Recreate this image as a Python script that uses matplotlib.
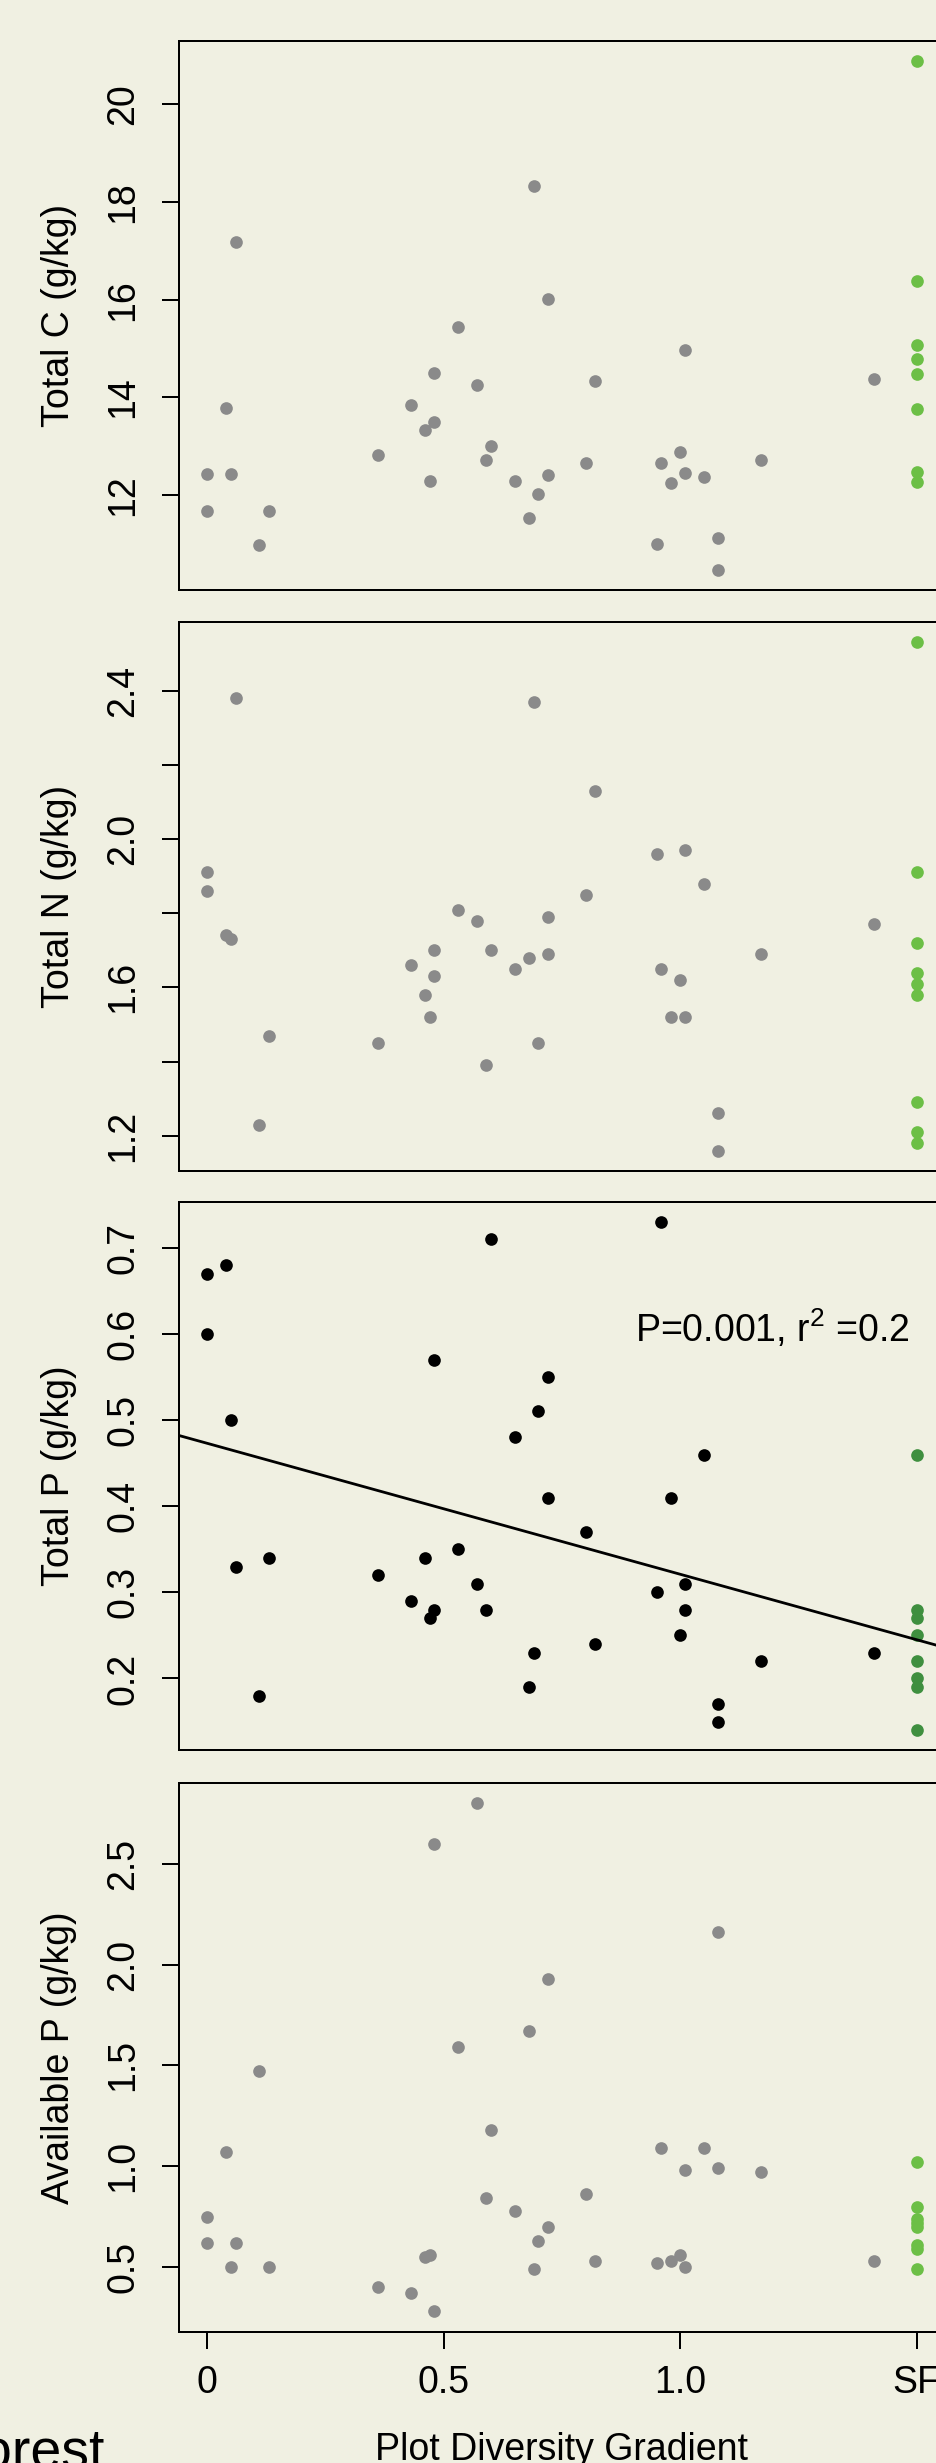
import numpy as np
import matplotlib as mpl
mpl.use('agg')
import matplotlib.pyplot as plt

plt.rcParams['font.family'] = ['Liberation Sans', 'DejaVu Sans']
plt.rcParams['mathtext.default'] = 'regular'

## plot diversity of each sampled plot (same order in every panel)
diversity = [0.00, 0.00, 0.04, 0.05, 0.06, 0.11, 0.13, 0.36, 0.43, 0.46, 0.47, 0.48,
             0.48, 0.53, 0.57, 0.59, 0.60, 0.65, 0.68, 0.69, 0.70, 0.72, 0.72, 0.80,
             0.82, 0.95, 0.96, 0.98, 1.00, 1.01, 1.01, 1.05, 1.08, 1.08, 1.17, 1.41]
sf_x = 1.5

total_c = [12.43, 11.68, 13.78, 12.43, 17.18, 10.98, 11.67, 12.82, 13.85, 13.32, 12.29, 14.50,
           13.49, 15.44, 14.25, 12.71, 13.01, 12.28, 11.52, 18.33, 12.01, 16.01, 12.40, 12.66,
           14.34, 10.99, 12.66, 12.25, 12.88, 14.96, 12.44, 12.36, 11.11, 10.47, 12.71, 14.37]
total_n = [1.91, 1.86, 1.74, 1.73, 2.38, 1.23, 1.47, 1.45, 1.66, 1.58, 1.52, 1.70,
           1.63, 1.81, 1.78, 1.39, 1.70, 1.65, 1.68, 2.37, 1.45, 1.79, 1.69, 1.85,
           2.13, 1.96, 1.65, 1.52, 1.62, 1.97, 1.52, 1.88, 1.26, 1.16, 1.69, 1.77]
total_p = [0.67, 0.60, 0.68, 0.50, 0.33, 0.18, 0.34, 0.32, 0.29, 0.34, 0.27, 0.57,
           0.28, 0.35, 0.31, 0.28, 0.71, 0.48, 0.19, 0.23, 0.51, 0.55, 0.41, 0.37,
           0.24, 0.30, 0.73, 0.41, 0.25, 0.31, 0.28, 0.46, 0.17, 0.15, 0.22, 0.23]
avail_p = [0.75, 0.62, 1.07, 0.50, 0.62, 1.47, 0.50, 0.40, 0.37, 0.55, 0.56, 2.60,
           0.28, 1.59, 2.80, 0.84, 1.18, 0.78, 1.67, 0.49, 0.63, 1.93, 0.70, 0.86,
           0.53, 0.52, 1.09, 0.53, 0.56, 0.98, 0.50, 1.09, 2.16, 0.99, 0.97, 0.53]

## secondary forest (SF) reference plots
sf_c = [20.88, 16.38, 15.08, 14.79, 14.47, 13.76, 12.46, 12.27]
sf_n = [2.53, 1.91, 1.72, 1.64, 1.61, 1.58, 1.29, 1.21, 1.18]
sf_p = [0.46, 0.28, 0.27, 0.25, 0.22, 0.20, 0.19, 0.14]
sf_avail_p = [1.02, 0.80, 0.74, 0.72, 0.70, 0.61, 0.59, 0.49]

## regression of total P on diversity
fit_intercept = 0.473
fit_slope = -0.152

bg = '#F0F0E2'
grey = '#8A8A8A'
light_green = '#6CBF46'
dark_green = '#3F8F3F'
ms = 9.1

fig = plt.figure(figsize=(9.37, 24.63), dpi=100, facecolor=bg)

left, width = 0.191, 0.8175
panels = [
    (0.7605, total_c, sf_c, 'Total C (g/kg)', [12, 14, 16, 18, 20], ['12', '14', '16', '18', '20'], grey, light_green),
    (0.5246, total_n, sf_n, 'Total N (g/kg)', [1.2, 1.4, 1.6, 1.8, 2.0, 2.2, 2.4], ['1.2', '', '1.6', '', '2.0', '', '2.4'], grey, light_green),
    (0.2893, total_p, sf_p, 'Total P (g/kg)', [0.2, 0.3, 0.4, 0.5, 0.6, 0.7], ['0.2', '0.3', '0.4', '0.5', '0.6', '0.7'], 'black', dark_green),
    (0.0533, avail_p, sf_avail_p, 'Available P (g/kg)', [0.5, 1.0, 1.5, 2.0, 2.5], ['0.5', '1.0', '1.5', '2.0', '2.5'], grey, light_green),
]

axes = []
for bottom, vals, sf_vals, label, yt, ytl, col, sf_col in panels:
    ax = fig.add_axes([left, bottom, width, 0.2228])
    ax.set_facecolor(bg)
    ax.plot(diversity, vals, marker='o', linestyle='', ms=ms, color=col, mec='none')
    ax.plot([sf_x] * len(sf_vals), sf_vals, marker='o', linestyle='', ms=ms, color=sf_col, mec='none')
    ax.margins(0.04)
    ax.set_yticks(yt)
    ax.set_yticklabels(ytl, rotation=90, va='center')
    ax.tick_params(axis='y', length=12.2, width=1.44, labelsize=27, pad=15)
    ax.set_xticks([])
    for s in ax.spines.values():
        s.set_linewidth(1.44)
    ax.set_ylabel(label, fontsize=27, labelpad=20)
    axes.append(ax)

## regression line and stats on total P
ax3 = axes[2]
ax3.axline((0, fit_intercept), slope=fit_slope, color='black', lw=2.0)
ax3.text(0.905, 0.606, 'P=0.001, r$^{2}$ =0.2', fontsize=27, ha='left', va='center')

ax4 = axes[3]
ax4.set_xticks([0, 0.5, 1.0, sf_x])
ax4.set_xticklabels(['0', '0.5', '1.0', 'SF'])
ax4.tick_params(axis='x', length=12.2, width=1.44, labelsize=27, pad=12)
ax4.set_xlabel('Plot Diversity Gradient', fontsize=27, labelpad=22)

fig.text(105 / 937, -5 / 2463, 'Forest', fontsize=40, ha='right', va='baseline')

fig.savefig('out.png', dpi=100, facecolor=bg)
